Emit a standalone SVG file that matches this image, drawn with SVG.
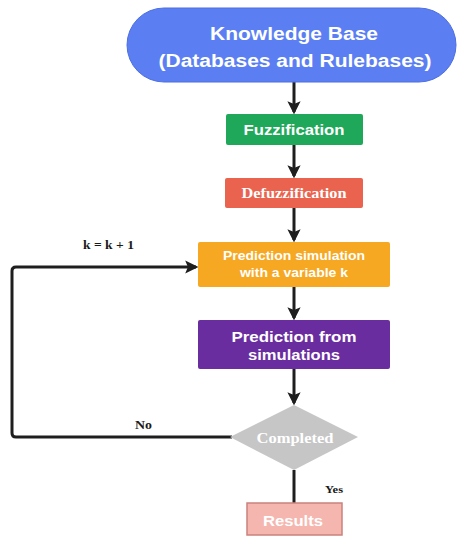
<svg xmlns="http://www.w3.org/2000/svg" width="460" height="538" viewBox="0 0 460 538">
<defs>
<marker id="ah" markerWidth="4.4" markerHeight="4.4" refX="3.6" refY="2.2" orient="auto" markerUnits="strokeWidth">
<path d="M0,0 L4.4,2.2 L0,4.4 L0.9,2.2 Z" fill="#1e1e1e"/>
</marker>
<style>
.line{fill:none;stroke:#1e1e1e;stroke-width:3;stroke-linejoin:round}
.sans{font-family:"Liberation Sans",Arial,sans-serif;font-weight:bold;fill:#ffffff;text-anchor:middle}
.serif{font-family:"Liberation Serif","Times New Roman",serif;font-weight:bold;text-anchor:middle}
.lbl{font-family:"Liberation Serif","Times New Roman",serif;font-weight:bold;fill:#1a1a1a}
</style>
</defs>
<rect width="460" height="538" fill="#ffffff"/>
<g id="connectors">
<line class="line" x1="294" y1="82" x2="294" y2="112" marker-end="url(#ah)"/>
<line class="line" x1="294" y1="145" x2="294" y2="176" marker-end="url(#ah)"/>
<line class="line" x1="294" y1="208" x2="294" y2="240" marker-end="url(#ah)"/>
<line class="line" x1="294" y1="287" x2="294" y2="318" marker-end="url(#ah)"/>
<line class="line" x1="294" y1="369" x2="294" y2="403" marker-end="url(#ah)"/>
<path class="line" d="M232,437 L16,437 Q12,437 12,433 L12,271 Q12,267 16,267 L196,267" marker-end="url(#ah)"/>
<line class="line" x1="294" y1="470" x2="294" y2="503"/>
<text class="lbl" x="83" y="249" font-size="11.5" textLength="51" lengthAdjust="spacingAndGlyphs">k = k + 1</text>
<text class="lbl" x="135" y="429" font-size="12" textLength="17" lengthAdjust="spacingAndGlyphs">No</text>
<text class="lbl" x="325" y="493" font-size="11" textLength="18" lengthAdjust="spacingAndGlyphs">Yes</text>
</g>
<g id="knowledge-base">
<rect x="127" y="8" width="329" height="74" rx="37" ry="37" fill="#5b7ff3" stroke="#4d6fe0" stroke-width="1"/>
<text class="sans" x="294" y="40" font-size="17.5" textLength="168" lengthAdjust="spacingAndGlyphs">Knowledge Base</text>
<text class="sans" x="295" y="67" font-size="17.5" textLength="273" lengthAdjust="spacingAndGlyphs">(Databases and Rulebases)</text>
</g>
<g id="fuzzification">
<rect x="226" y="114" width="137" height="31" rx="2" fill="#1fa85a"/>
<text class="sans" x="294" y="135" font-size="14" textLength="101" lengthAdjust="spacingAndGlyphs">Fuzzification</text>
</g>
<g id="defuzzification">
<rect x="225" y="178" width="138" height="30" rx="2" fill="#e9634f"/>
<text class="serif" x="294" y="198" font-size="14" fill="#ffffff" textLength="105" lengthAdjust="spacingAndGlyphs">Defuzzification</text>
</g>
<g id="prediction-simulation">
<rect x="198" y="242" width="192" height="45" rx="2" fill="#f6a823"/>
<text class="sans" x="294" y="260" font-size="12.5" fill="#fdf1dc" textLength="142" lengthAdjust="spacingAndGlyphs">Prediction simulation</text>
<text class="sans" x="294" y="277" font-size="12.5" fill="#fdf1dc" textLength="108" lengthAdjust="spacingAndGlyphs">with a variable k</text>
</g>
<g id="prediction-from-simulations">
<rect x="198" y="320" width="192" height="49" rx="2" fill="#6a2d9f"/>
<text class="sans" x="294" y="342" font-size="14" textLength="125" lengthAdjust="spacingAndGlyphs">Prediction from</text>
<text class="sans" x="294" y="360" font-size="14" textLength="92" lengthAdjust="spacingAndGlyphs">simulations</text>
</g>
<g id="completed">
<polygon points="294,405 358,437 294,470 230,437" fill="#c6c6c6"/>
<text class="serif" x="295" y="443" font-size="15" fill="#ffffff" textLength="77" lengthAdjust="spacingAndGlyphs">Completed</text>
</g>
<g id="results">
<rect x="247" y="503" width="95" height="32" fill="#f5b6af" stroke="#c9827c" stroke-width="1.5"/>
<text class="sans" x="293" y="526" font-size="15" textLength="60" lengthAdjust="spacingAndGlyphs">Results</text>
</g>
</svg>
